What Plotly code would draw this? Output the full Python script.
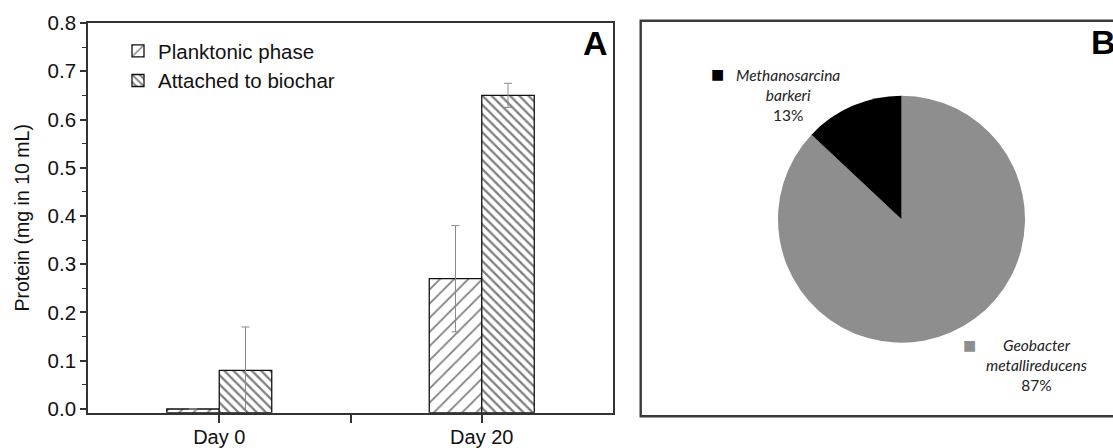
import plotly.graph_objects as go

# ---------------- data ----------------
days = ["Day 0", "Day 20"]
planktonic = [0.0, 0.27]
planktonic_err = [0.0, 0.11]
attached = [0.08, 0.65]
attached_err = [0.09, 0.025]

series_names = ["Planktonic phase", "Attached to biochar"]
y_ticks = [0.0, 0.1, 0.2, 0.3, 0.4, 0.5, 0.6, 0.7, 0.8]

species_genus = ["Geobacter", "Methanosarcina"]
species_epithet = ["metallireducens", "barkeri"]
species_share = [87, 13]
species_colors = ["#8e8e8e", "#000000"]

# ---------------- layout helpers ----------------
W, H = 1113, 448
Y_MIN, Y_MAX = -0.0077, 0.8


def px_x(p):
    return p / W


def px_y(p):
    return 1 - p / H


AX = "#333333"
FONT_A = "Liberation Sans, Arial, sans-serif"
FONT_B = "Lato, Open Sans, sans-serif"

xpos = [i + 1 for i in range(len(days))]

fig = go.Figure()

fig.add_trace(go.Bar(
    x=xpos, y=[v - Y_MIN for v in planktonic], base=Y_MIN,
    name=series_names[0],
    marker=dict(color="white", line=dict(color="#111111", width=1.3),
                pattern=dict(shape="/", size=10, solidity=0.18,
                             fgcolor="#000000", bgcolor="white", fillmode="overlay")),
    error_y=dict(type="data", array=planktonic_err, color="#8a8a8a",
                 thickness=1, width=4),
    xaxis="x", yaxis="y",
))
fig.add_trace(go.Bar(
    x=xpos, y=[v - Y_MIN for v in attached], base=Y_MIN,
    name=series_names[1],
    marker=dict(color="white", line=dict(color="#111111", width=1.3),
                pattern=dict(shape="\\", size=6.5, solidity=0.35,
                             fgcolor="#000000", bgcolor="white", fillmode="overlay")),
    error_y=dict(type="data", array=attached_err, color="#8a8a8a",
                 thickness=1, width=4),
    xaxis="x", yaxis="y",
))

# pie (panel B)
cx, cy, r = 901.5, 219.2, 123.5
fig.add_trace(go.Pie(
    labels=[f"{g} {s}" for g, s in zip(species_genus, species_epithet)],
    values=species_share,
    sort=False, direction="clockwise", rotation=0,
    marker=dict(colors=species_colors, line=dict(width=0)),
    textinfo="none", showlegend=False, hoverinfo="label+percent",
    domain=dict(x=[px_x(cx - r), px_x(cx + r)], y=[px_y(cy + r), px_y(cy - r)]),
))

annotations = [
    dict(text="<b>A</b>", x=px_x(595), y=px_y(43), xref="paper", yref="paper",
         xanchor="center", yanchor="middle", showarrow=False,
         font=dict(family=FONT_A, size=34, color="black")),
    dict(text="<b>B</b>", x=px_x(1089), y=px_y(42), xref="paper", yref="paper",
         xanchor="left", yanchor="middle", showarrow=False,
         font=dict(family=FONT_A, size=34, color="black")),
]

# pie data labels with legend keys
label_pos = [  # (text centre x, text centre y, key x, key y) in px
    (1036, 365, 969, 345),
    (788, 95, 717, 74),
]
for g, s, v, c, (tx, ty, kx, ky) in zip(species_genus, species_epithet,
                                        species_share, species_colors, label_pos):
    annotations.append(dict(
        text=f"<i>{g}</i><br><i>{s}</i><br>{v}%",
        x=px_x(tx), y=px_y(ty), xref="paper", yref="paper", showarrow=False,
        xanchor="center", yanchor="middle",
        align="center", font=dict(family=FONT_B, size=15.5, color="#222222")))
    annotations.append(dict(
        text=f"<span style='color:{c}'>■</span>",
        x=px_x(kx), y=px_y(ky), xref="paper", yref="paper", showarrow=False,
        xanchor="center", yanchor="middle",
        font=dict(family="DejaVu Sans", size=14, color=c)))

fig.update_layout(
    width=W, height=H,
    margin=dict(l=0, r=0, t=0, b=0, autoexpand=False),
    paper_bgcolor="white", plot_bgcolor="white",
    barmode="group", bargap=0.6, bargroupgap=0,
    font=dict(family=FONT_A, color="#111111"),
    xaxis=dict(
        domain=[px_x(88), px_x(613)], range=[0.5, 2.5], automargin=False,
        tickmode="array", tickvals=xpos, ticktext=days,
        ticks="outside", ticklen=8, tickwidth=1.5, tickcolor=AX,
        ticklabelstandoff=-3,
        minor=dict(tickmode="array", tickvals=[1.5], ticks="outside",
                   ticklen=8, tickwidth=1.5, tickcolor=AX),
        showline=True, linecolor=AX, linewidth=1.6, mirror=True,
        showgrid=False, zeroline=False,
        tickfont=dict(size=20, family=FONT_A, color="#111111"),
    ),
    yaxis=dict(
        domain=[px_y(412.7), px_y(23)], range=[Y_MIN, Y_MAX], automargin=False,
        tickmode="array", tickvals=y_ticks,
        ticktext=[f"{t:.1f}" for t in y_ticks],
        ticks="outside", ticklen=6, tickwidth=1.5, tickcolor=AX,
        minor=dict(dtick=0.05, tick0=0, ticks="outside", ticklen=4,
                   tickwidth=1.2, tickcolor=AX),
        showline=True, linecolor=AX, linewidth=1.6, mirror=True,
        showgrid=False, zeroline=False,
        tickfont=dict(size=20.5, family=FONT_A, color="#111111"),
        title=dict(text="Protein (mg in 10 mL)", standoff=13,
                   font=dict(size=19.5, family=FONT_A, color="#111111")),
    ),
    legend=dict(x=px_x(118), y=px_y(31), xanchor="left", yanchor="top",
                bgcolor="rgba(0,0,0,0)", font=dict(size=20.5, family=FONT_A),
                itemwidth=30, tracegroupgap=0),
    annotations=annotations,
    shapes=[dict(type="rect", xref="paper", yref="paper",
                 x0=px_x(640.7), x1=px_x(1130), y0=px_y(416.3), y1=px_y(20.7),
                 line=dict(color="#3a3a3a", width=2.4), fillcolor="rgba(0,0,0,0)",
                 layer="below")],
)

fig.write_html(
    "out.html",
    config={"displayModeBar": False},
    post_script="document.body.style.margin='0';document.body.style.overflow='hidden';",
)
